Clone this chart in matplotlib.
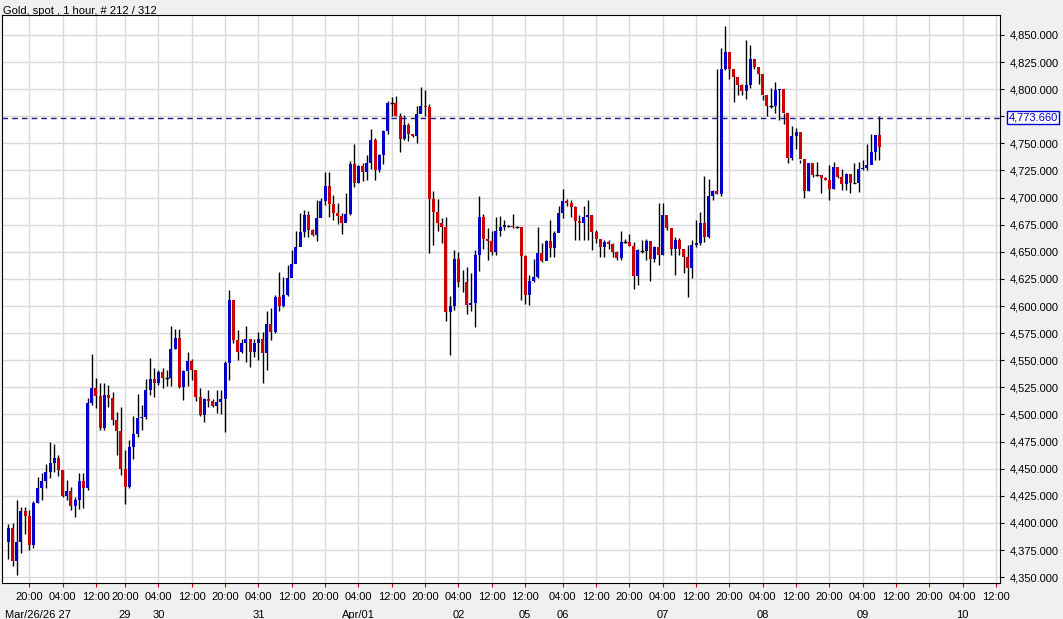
import matplotlib

matplotlib.use("Agg")
import matplotlib.pyplot as plt
from matplotlib.patches import Rectangle

plt.rcParams["font.family"] = ["Liberation Sans Narrow", "Liberation Sans", "DejaVu Sans"]

# hourly closes / highs / lows (open = previous close)
closes = [
    4394.9, 4365, 4382.6, 4410.9, 4406.5, 4379.5, 4418, 4432.4, 4438.8, 4447.1,
    4454.8, 4459.4, 4448.7, 4424.7, 4429.6, 4415.8, 4421, 4438.5, 4431.8, 4510.2,
    4524, 4517, 4487.1, 4517.9, 4515.4, 4494.8, 4485, 4449.6, 4433.3, 4470.2,
    4481.9, 4496.3, 4497.9, 4522.5, 4532.3, 4528.6, 4538.8, 4533.2, 4533.2, 4560,
    4570.2, 4525, 4540, 4549.3, 4541, 4516.4, 4499.5, 4513.9, 4512.7, 4508.1,
    4511.8, 4514.2, 4547.8, 4605.6, 4568.7, 4557.9,
    4565.6, 4569.6, 4557.9, 4566.2, 4569.6, 4557, 4583.4, 4576.3, 4608.6, 4600,
    4610.2, 4625.5, 4638.8, 4654.8, 4668, 4684, 4670.1, 4665.5, 4680.9, 4696.9,
    4710.7, 4694.1, 4686.1, 4683, 4676.9, 4684.9, 4731, 4713.8, 4729.2, 4723.9,
    4731.6, 4753.2, 4725.5, 4739.3, 4761.5, 4787.6, 4787.6, 4775.3, 4754.1, 4767,
    4758.7, 4756.8, 4777.1, 4784.5, 4783.9, 4698.4, 4687, 4676.9, 4673.2, 4594.8,
    4600, 4643.1, 4622.5,
    4621.8, 4601, 4602.5, 4647.1, 4681.8, 4661.5, 4660.3, 4650.1, 4669.5, 4673.2,
    4674.7, 4674.1, 4673.2, 4672.6, 4646.1, 4610.2, 4623.4, 4627.1, 4648.6, 4641.8,
    4660.3, 4653.8, 4667.1, 4686.1, 4697.2, 4694.7, 4691, 4678.7, 4676.9, 4681.8,
    4684, 4668.6, 4661.5, 4654.7, 4659.4, 4657.2, 4650.2, 4644, 4659.4, 4659.4,
    4655.4, 4627.7, 4651.7, 4651.1, 4660, 4643.4, 4654.1, 4647.1, 4684, 4671.7,
    4652.3, 4660.9, 4652.3, 4644.9, 4634.8, 4656.3, 4658.4, 4676.3, 4663.4, 4701.5,
    4706.1, 4703,
    4818.3, 4834, 4818.3, 4811.5, 4803.8, 4798.6, 4803.8, 4827.5, 4820.7, 4814,
    4794.6, 4784.5, 4784.5, 4799.2, 4799.8, 4777.7, 4736.8, 4756.8, 4760.8, 4735.3,
    4706.4, 4732.2, 4720.8, 4720.5, 4717.7, 4716.2, 4707.6, 4728.5, 4719.3, 4712.5,
    4721.7, 4713.7, 4713.7, 4726.1, 4727, 4730, 4742.3, 4757.7, 4747, 4773.66,
]
highs = [
    4399, 4400, 4421, 4415, 4415, 4412, 4420, 4442, 4446, 4454,
    4475, 4473, 4463, 4449, 4440, 4433, 4424, 4446, 4446, 4515,
    4556, 4534, 4529, 4529, 4527, 4521, 4502, 4507, 4467, 4476,
    4499, 4519, 4509, 4533, 4552, 4543, 4541, 4543, 4541, 4582,
    4579, 4579, 4541, 4558, 4551, 4541, 4524, 4515, 4523, 4514,
    4523, 4523, 4549, 4615, 4606, 4578,
    4570, 4582, 4570, 4570, 4576, 4576, 4595, 4598, 4610, 4631,
    4627, 4638, 4652, 4669, 4686, 4689, 4688, 4671, 4698, 4700,
    4724, 4724, 4702, 4695, 4686, 4704, 4734, 4749, 4730, 4732,
    4739, 4763, 4755, 4740, 4762, 4789, 4793, 4794, 4778, 4776,
    4769, 4759, 4784, 4802, 4799, 4786, 4706, 4699, 4681, 4682,
    4609, 4652, 4650,
    4633, 4636, 4630, 4652, 4701, 4685, 4672, 4669, 4682, 4683,
    4679, 4675, 4685, 4674, 4670, 4647, 4629, 4643, 4673, 4658,
    4661, 4679, 4669, 4692, 4708, 4699, 4698, 4692, 4684, 4692,
    4698, 4684, 4670, 4662, 4661, 4661, 4658, 4651, 4669, 4662,
    4666, 4659, 4653, 4661, 4662, 4658, 4655, 4695, 4695, 4679,
    4672, 4664, 4663, 4653, 4656, 4661, 4679, 4687, 4720, 4717,
    4707,
    4819, 4838, 4858, 4825, 4813, 4805, 4805, 4845, 4841, 4821,
    4815, 4795, 4785, 4801, 4807, 4800, 4778, 4758, 4766, 4764,
    4735, 4733, 4732, 4722, 4733, 4719, 4719, 4730, 4733, 4721,
    4726, 4723, 4715, 4732, 4733, 4735, 4749, 4759, 4758, 4775,
]
lows = [
    4367, 4360, 4352, 4372, 4390, 4375, 4377, 4418, 4421, 4432,
    4441, 4447, 4443, 4424, 4421, 4412, 4405, 4413, 4414, 4430,
    4509, 4506, 4486, 4486, 4507, 4490, 4463, 4444, 4417, 4432,
    4459, 4479, 4486, 4496, 4518, 4516, 4527, 4524, 4526, 4526,
    4560, 4524, 4513, 4526, 4532, 4512, 4499, 4493, 4507, 4507,
    4501, 4500, 4484, 4532, 4566, 4550,
    4557, 4548, 4544, 4553, 4550, 4529, 4541, 4569, 4575, 4595,
    4599, 4609, 4636, 4652, 4664, 4664, 4664, 4665, 4660, 4682,
    4693, 4682, 4679, 4676, 4666, 4678, 4684, 4710, 4713, 4715,
    4716, 4726, 4716, 4724, 4731, 4759, 4775, 4775, 4742, 4753,
    4752, 4756, 4750, 4778, 4775, 4649, 4656, 4669, 4658, 4586,
    4555, 4596, 4618,
    4613, 4593, 4595, 4581, 4632, 4653, 4642, 4647, 4647, 4665,
    4670, 4673, 4672, 4672, 4606, 4602, 4601, 4622, 4626, 4641,
    4644, 4645, 4645, 4669, 4681, 4692, 4682, 4661, 4661, 4661,
    4661, 4652, 4658, 4645, 4645, 4653, 4645, 4642, 4642, 4658,
    4655, 4616, 4619, 4649, 4642, 4623, 4641, 4638, 4647, 4670,
    4647, 4629, 4647, 4630, 4608, 4626, 4654, 4656, 4659, 4663,
    4698, 4703,
    4701, 4818, 4809, 4788, 4795, 4795, 4791, 4801, 4819, 4805,
    4790, 4775, 4783, 4778, 4772, 4768, 4732, 4735, 4745, 4732,
    4700, 4706, 4719, 4720, 4704, 4716, 4698, 4708, 4718, 4707,
    4707, 4704, 4713, 4705, 4725, 4725, 4732, 4735, 4735, 4747,
]
first_open = 4382.6
last_price = 4773.66

tick_idx = [5, 13, 21, 28, 36, 44, 52, 60, 68, 76, 84, 92, 100, 108, 116,
            124, 133, 141, 149, 157, 165, 173, 181, 189, 197, 205, 213, 221, 229, 237]
tick_labels = ["20:00", "04:00", "12:00", "20:00", "04:00", "12:00", "20:00", "04:00",
               "12:00", "20:00", "04:00", "12:00", "20:00", "04:00", "12:00", "12:00",
               "04:00", "12:00", "20:00", "04:00", "12:00", "20:00", "04:00", "12:00",
               "20:00", "04:00", "12:00", "20:00", "04:00", "12:00"]
date_idx = [28, 36, 60, 84, 108, 124, 133, 157, 181, 205, 229]
date_labels = ["29", "30", "31", "Apr/01", "02", "05", "06", "07", "08", "09", "10"]
y_ticks = list(range(4350, 4851, 25))

UP, DOWN = "#0000cc", "#cc0000"

fig = plt.figure(figsize=(10.63, 6.19), dpi=100, facecolor="#f0f0f0")
ax = fig.add_axes([0.002, 0.058, 0.939, 0.918], facecolor="white")

n = min(len(closes), len(highs), len(lows))
opens = [first_open] + closes[:n - 1]
for i in range(n):
    o, c = opens[i], closes[i]
    ax.vlines(i, lows[i], highs[i], color="black", lw=1, zorder=2)
    if abs(c - o) < 0.6:
        ax.hlines(c, i - 0.45, i + 0.45, color="black", lw=1, zorder=3)
    else:
        ax.add_patch(Rectangle((i - 0.36, min(o, c)), 0.72, abs(c - o),
                               facecolor=UP if c > o else DOWN, edgecolor="none", zorder=3))

ax.set_xlim(-1.5, 238)
ax.set_ylim(4344.5, 4868.5)
ax.set_yticks(y_ticks)
ax.set_yticklabels([f"{v:,.3f}" for v in y_ticks])
ax.yaxis.tick_right()
ax.set_xticks(tick_idx)
ax.set_xticklabels(tick_labels)
ax.tick_params(labelsize=8, length=3, colors="black")
ax.tick_params(axis="x", colors="#cc0000", labelcolor="black")
ax.grid(True, color="#d9d9d9", lw=1)
ax.set_axisbelow(True)
for s in ax.spines.values():
    s.set_color("black")

ax.axhline(last_price, color="#1a1a8c", lw=1, ls=(0, (4, 3)), zorder=4)
ax.text(1.008, last_price, f"{last_price:,.3f}", transform=ax.get_yaxis_transform(),
        va="center", ha="left", fontsize=8, color="#0000cc",
        bbox=dict(boxstyle="square,pad=0.15", fc="white", ec="#0000cc", lw=1))

dt = ax.get_xaxis_transform()
ax.text(0.003, -0.047, "Mar/26/26 27", transform=ax.transAxes, fontsize=8, va="top")
for xi, lab in zip(date_idx, date_labels):
    ax.text(xi, -0.047, lab, transform=dt, fontsize=8, va="top", ha="center")

fig.text(0.003, 0.99, "Gold, spot , 1 hour, # 212 / 312", fontsize=8, va="top")

fig.savefig("out.png", dpi=100, facecolor=fig.get_facecolor())
